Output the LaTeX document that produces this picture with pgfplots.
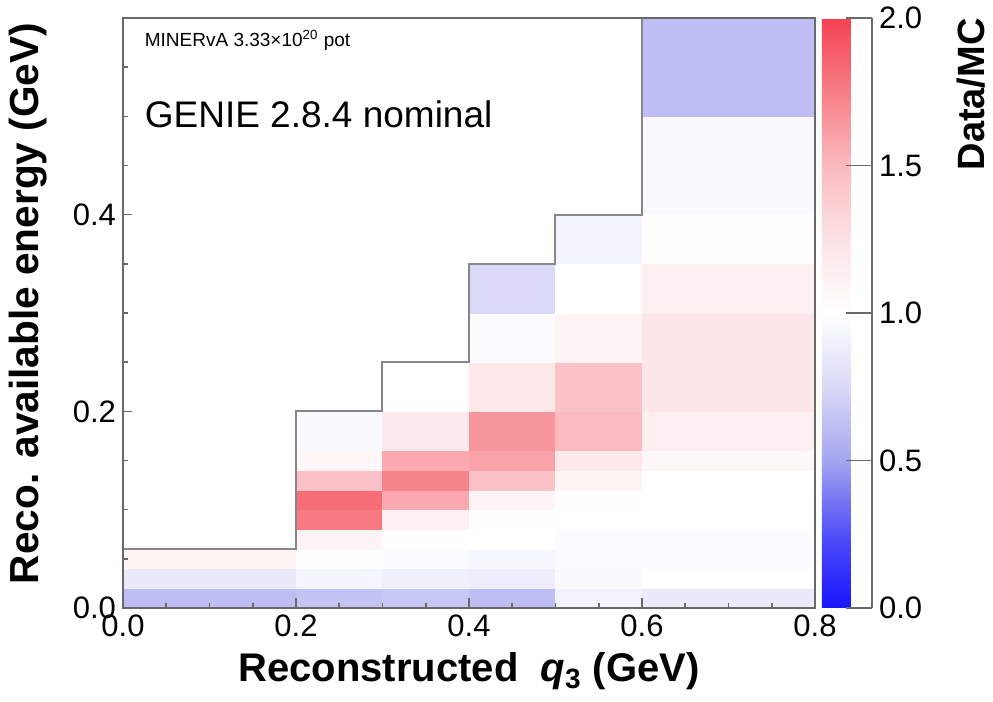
\documentclass[border=0pt]{standalone}
\usepackage{fontspec}
\setmainfont{Liberation Sans}
\usepackage{pgfplots}
\pgfplotsset{compat=1.18}
\usepgfplotslibrary{patchplots}

\definecolor{framegray}{RGB}{105,105,105}
\definecolor{stepgray}{RGB}{135,135,135}

\begin{document}
\begin{tikzpicture}[x=1pt,y=1pt]
% frame of the whole picture (1 px of the reference = 0.5pt)
\path[use as bounding box] (-61.5,-47) rectangle (435,304);
\begin{axis}[
  at={(0,0)}, anchor=south west,
  scale only axis, width=346pt, height=295pt,
  xmin=0, xmax=0.8, ymin=0, ymax=0.6,
  enlargelimits=false,
  axis on top,
  axis line style={framegray, line width=0.8pt},
  tick style={framegray, line width=0.8pt},
  tick align=inside, tick pos=left,
  major tick length=4.75pt, minor tick length=2.5pt,
  xtick={0,0.2,0.4,0.6,0.8},
  minor xtick={0.05,0.1,...,0.75},
  ytick={0,0.2,0.4},
  minor ytick={0.05,0.1,...,0.55},
  /pgf/number format/assume math mode=true,
  xticklabel style={/pgf/number format/.cd, fixed, fixed zerofill, precision=1},
  yticklabel style={/pgf/number format/.cd, fixed, fixed zerofill, precision=1},
  tick label style={font=\fontsize{15.5}{18}\selectfont},
  xlabel={Reconstructed\ \ \textit{q}\textsubscript{3} (GeV)},
  ylabel={Reco. available energy (GeV)},
  every axis x label/.style={at={(rel axis cs:0.5,0)}, yshift=-37pt, anchor=base, inner sep=0pt,
    font=\bfseries\fontsize{20}{23}\selectfont},
  every axis y label/.style={at={(rel axis cs:0,0.516)}, xshift=-37.5pt, rotate=90, anchor=south, inner sep=0pt,
    font=\bfseries\fontsize{20.3}{23}\selectfont},
  colormap={datamc}{rgb255=(25,20,255) rgb255=(80,80,248) rgb255=(165,165,240) rgb255=(218,218,248)
    rgb255=(255,255,255) rgb255=(252,226,229) rgb255=(250,186,191) rgb255=(247,126,134) rgb255=(245,66,82)},
  point meta min=0, point meta max=2,
  colorbar,
  colorbar shift/.style={xshift=0pt},
  colorbar style={
    at={(parent axis.north east)}, anchor=north west, xshift=3.5pt,
    width=25pt,
    hide x axis, axis y line*=right,
    axis line style={framegray, line width=0.8pt},
    tick style={framegray, line width=0.8pt},
    tick align=inside,
    major tick length=13pt,
    ytick={0,0.5,1,1.5,2},
    /pgf/number format/assume math mode=true,
    yticklabel style={font=\fontsize{15.5}{18}\selectfont,
      /pgf/number format/.cd, fixed, fixed zerofill, precision=1},
    ylabel={Data/MC},
    every axis y label/.style={at={(rel axis cs:1,1)}, xshift=42.5pt, rotate=90, anchor=north east, inner sep=0pt,
      font=\bfseries\fontsize{19}{22}\selectfont},
  },
]

% Data/MC ratio per bin: four corners of each bin, one bin per line
\addplot[patch, patch type=rectangle, shader=flat, point meta=explicit]
  table[row sep=\\, meta=c] {
  x y c\\
  0 0 0.62\\ 0.2 0 0.62\\ 0.2 0.02 0.62\\ 0 0.02 0.62\\
  0 0.02 0.86\\ 0.2 0.02 0.86\\ 0.2 0.04 0.86\\ 0 0.04 0.86\\
  0 0.04 1.10\\ 0.2 0.04 1.10\\ 0.2 0.06 1.10\\ 0 0.06 1.10\\
  0.2 0 0.64\\ 0.3 0 0.64\\ 0.3 0.02 0.64\\ 0.2 0.02 0.64\\
  0.2 0.02 0.93\\ 0.3 0.02 0.93\\ 0.3 0.04 0.93\\ 0.2 0.04 0.93\\
  0.2 0.04 0.99\\ 0.3 0.04 0.99\\ 0.3 0.06 0.99\\ 0.2 0.06 0.99\\
  0.2 0.06 1.10\\ 0.3 0.06 1.10\\ 0.3 0.08 1.10\\ 0.2 0.08 1.10\\
  0.2 0.08 1.77\\ 0.3 0.08 1.77\\ 0.3 0.10 1.77\\ 0.2 0.10 1.77\\
  0.2 0.10 1.82\\ 0.3 0.10 1.82\\ 0.3 0.12 1.82\\ 0.2 0.12 1.82\\
  0.2 0.12 1.45\\ 0.3 0.12 1.45\\ 0.3 0.14 1.45\\ 0.2 0.14 1.45\\
  0.2 0.14 1.08\\ 0.3 0.14 1.08\\ 0.3 0.16 1.08\\ 0.2 0.16 1.08\\
  0.2 0.16 0.96\\ 0.3 0.16 0.96\\ 0.3 0.20 0.96\\ 0.2 0.20 0.96\\
  0.3 0 0.66\\ 0.4 0 0.66\\ 0.4 0.02 0.66\\ 0.3 0.02 0.66\\
  0.3 0.02 0.90\\ 0.4 0.02 0.90\\ 0.4 0.04 0.90\\ 0.3 0.04 0.90\\
  0.3 0.04 0.98\\ 0.4 0.04 0.98\\ 0.4 0.06 0.98\\ 0.3 0.06 0.98\\
  0.3 0.06 1.02\\ 0.4 0.06 1.02\\ 0.4 0.08 1.02\\ 0.3 0.08 1.02\\
  0.3 0.08 1.12\\ 0.4 0.08 1.12\\ 0.4 0.10 1.12\\ 0.3 0.10 1.12\\
  0.3 0.10 1.57\\ 0.4 0.10 1.57\\ 0.4 0.12 1.57\\ 0.3 0.12 1.57\\
  0.3 0.12 1.73\\ 0.4 0.12 1.73\\ 0.4 0.14 1.73\\ 0.3 0.14 1.73\\
  0.3 0.14 1.57\\ 0.4 0.14 1.57\\ 0.4 0.16 1.57\\ 0.3 0.16 1.57\\
  0.3 0.16 1.18\\ 0.4 0.16 1.18\\ 0.4 0.20 1.18\\ 0.3 0.20 1.18\\
  0.3 0.20 1.00\\ 0.4 0.20 1.00\\ 0.4 0.25 1.00\\ 0.3 0.25 1.00\\
  0.4 0 0.62\\ 0.5 0 0.62\\ 0.5 0.02 0.62\\ 0.4 0.02 0.62\\
  0.4 0.02 0.88\\ 0.5 0.02 0.88\\ 0.5 0.04 0.88\\ 0.4 0.04 0.88\\
  0.4 0.04 0.94\\ 0.5 0.04 0.94\\ 0.5 0.06 0.94\\ 0.4 0.06 0.94\\
  0.4 0.06 1.00\\ 0.5 0.06 1.00\\ 0.5 0.08 1.00\\ 0.4 0.08 1.00\\
  0.4 0.08 1.02\\ 0.5 0.08 1.02\\ 0.5 0.10 1.02\\ 0.4 0.10 1.02\\
  0.4 0.10 1.10\\ 0.5 0.10 1.10\\ 0.5 0.12 1.10\\ 0.4 0.12 1.10\\
  0.4 0.12 1.45\\ 0.5 0.12 1.45\\ 0.5 0.14 1.45\\ 0.4 0.14 1.45\\
  0.4 0.14 1.60\\ 0.5 0.14 1.60\\ 0.5 0.16 1.60\\ 0.4 0.16 1.60\\
  0.4 0.16 1.65\\ 0.5 0.16 1.65\\ 0.5 0.20 1.65\\ 0.4 0.20 1.65\\
  0.4 0.20 1.20\\ 0.5 0.20 1.20\\ 0.5 0.25 1.20\\ 0.4 0.25 1.20\\
  0.4 0.25 0.98\\ 0.5 0.25 0.98\\ 0.5 0.30 0.98\\ 0.4 0.30 0.98\\
  0.4 0.30 0.75\\ 0.5 0.30 0.75\\ 0.5 0.35 0.75\\ 0.4 0.35 0.75\\
  0.5 0 0.92\\ 0.6 0 0.92\\ 0.6 0.02 0.92\\ 0.5 0.02 0.92\\
  0.5 0.02 0.96\\ 0.6 0.02 0.96\\ 0.6 0.04 0.96\\ 0.5 0.04 0.96\\
  0.5 0.04 0.98\\ 0.6 0.04 0.98\\ 0.6 0.06 0.98\\ 0.5 0.06 0.98\\
  0.5 0.06 0.98\\ 0.6 0.06 0.98\\ 0.6 0.08 0.98\\ 0.5 0.08 0.98\\
  0.5 0.08 1.01\\ 0.6 0.08 1.01\\ 0.6 0.10 1.01\\ 0.5 0.10 1.01\\
  0.5 0.10 1.02\\ 0.6 0.10 1.02\\ 0.6 0.12 1.02\\ 0.5 0.12 1.02\\
  0.5 0.12 1.10\\ 0.6 0.12 1.10\\ 0.6 0.14 1.10\\ 0.5 0.14 1.10\\
  0.5 0.14 1.20\\ 0.6 0.14 1.20\\ 0.6 0.16 1.20\\ 0.5 0.16 1.20\\
  0.5 0.16 1.50\\ 0.6 0.16 1.50\\ 0.6 0.20 1.50\\ 0.5 0.20 1.50\\
  0.5 0.20 1.45\\ 0.6 0.20 1.45\\ 0.6 0.25 1.45\\ 0.5 0.25 1.45\\
  0.5 0.25 1.10\\ 0.6 0.25 1.10\\ 0.6 0.30 1.10\\ 0.5 0.30 1.10\\
  0.5 0.30 1.00\\ 0.6 0.30 1.00\\ 0.6 0.35 1.00\\ 0.5 0.35 1.00\\
  0.5 0.35 0.92\\ 0.6 0.35 0.92\\ 0.6 0.40 0.92\\ 0.5 0.40 0.92\\
  0.6 0 0.86\\ 0.8 0 0.86\\ 0.8 0.02 0.86\\ 0.6 0.02 0.86\\
  0.6 0.02 1.00\\ 0.8 0.02 1.00\\ 0.8 0.04 1.00\\ 0.6 0.04 1.00\\
  0.6 0.04 0.98\\ 0.8 0.04 0.98\\ 0.8 0.06 0.98\\ 0.6 0.06 0.98\\
  0.6 0.06 0.98\\ 0.8 0.06 0.98\\ 0.8 0.08 0.98\\ 0.6 0.08 0.98\\
  0.6 0.08 1.01\\ 0.8 0.08 1.01\\ 0.8 0.10 1.01\\ 0.6 0.10 1.01\\
  0.6 0.10 1.01\\ 0.8 0.10 1.01\\ 0.8 0.12 1.01\\ 0.6 0.12 1.01\\
  0.6 0.12 1.00\\ 0.8 0.12 1.00\\ 0.8 0.14 1.00\\ 0.6 0.14 1.00\\
  0.6 0.14 1.07\\ 0.8 0.14 1.07\\ 0.8 0.16 1.07\\ 0.6 0.16 1.07\\
  0.6 0.16 1.15\\ 0.8 0.16 1.15\\ 0.8 0.20 1.15\\ 0.6 0.20 1.15\\
  0.6 0.20 1.22\\ 0.8 0.20 1.22\\ 0.8 0.25 1.22\\ 0.6 0.25 1.22\\
  0.6 0.25 1.22\\ 0.8 0.25 1.22\\ 0.8 0.30 1.22\\ 0.6 0.30 1.22\\
  0.6 0.30 1.13\\ 0.8 0.30 1.13\\ 0.8 0.35 1.13\\ 0.6 0.35 1.13\\
  0.6 0.35 1.02\\ 0.8 0.35 1.02\\ 0.8 0.40 1.02\\ 0.6 0.40 1.02\\
  0.6 0.40 0.97\\ 0.8 0.40 0.97\\ 0.8 0.50 0.97\\ 0.6 0.50 0.97\\
  0.6 0.50 0.62\\ 0.8 0.50 0.62\\ 0.8 0.60 0.62\\ 0.6 0.60 0.62\\
  };

% outline of the filled region
\addplot[stepgray, line width=1pt, mark=none] coordinates {
  (0,0.06) (0.2,0.06) (0.2,0.2) (0.3,0.2) (0.3,0.25) (0.4,0.25)
  (0.4,0.35) (0.5,0.35) (0.5,0.4) (0.6,0.4) (0.6,0.6)};

\node[anchor=base west, inner sep=0pt, font=\fontsize{9.5}{11}\selectfont]
  at (rel axis cs:0.031,0.951) {MINERvA 3.33×10\textsuperscript{20} pot};
\node[anchor=base west, inner sep=0pt, font=\fontsize{18.5}{22}\selectfont]
  at (rel axis cs:0.031,0.8136) {GENIE 2.8.4 nominal};
\end{axis}
\end{tikzpicture}
\end{document}
